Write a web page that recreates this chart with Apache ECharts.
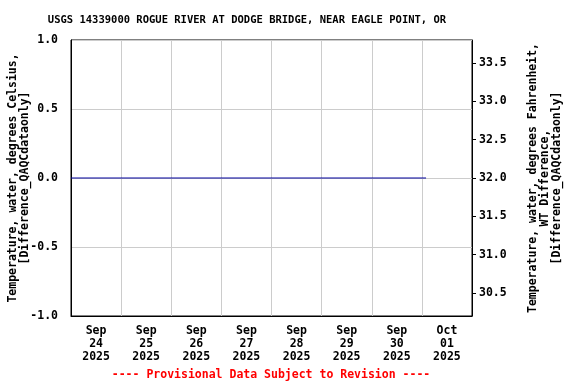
<!DOCTYPE html>
<html><head><meta charset="utf-8">
<script src="https://cdn.jsdelivr.net/npm/echarts@6/dist/echarts.min.js"></script>
<style>html,body{margin:0;padding:0;background:#fff}#c{width:576px;height:384px}</style>
</head><body><div id="c"></div>
<script>
const titleText = "USGS 14339000 ROGUE RIVER AT DODGE BRIDGE, NEAR EAGLE POINT, OR";
const footerText = "---- Provisional Data Subject to Revision ----";
const dayLabels = ["Sep\n24\n2025","Sep\n25\n2025","Sep\n26\n2025","Sep\n27\n2025","Sep\n28\n2025","Sep\n29\n2025","Sep\n30\n2025","Oct\n01\n2025"];
const times = ["2025-09-24T00:00:00","2025-10-01T02:00:00"];
const diffC = [0.0, 0.0];
const leftName = "Temperature, water, degrees Celsius,\n[Difference_QAQCdataonly]";
const rightName = "Temperature, water, degrees Fahrenheit,\nWT Difference,\n[Difference_QAQCdataonly]";
const rightTicks = [30.5,31.0,31.5,32.0,32.5,33.0,33.5];

const FONT = "DejaVu Sans Mono";
const chart = echarts.init(document.getElementById('c'), null, {renderer:'canvas'});
const xMin = new Date("2025-09-24T00:00:00").getTime();
const xMax = new Date("2025-10-02T00:00:00").getTime();
chart.setOption({
  animation:false,
  backgroundColor:'#fff',
  textStyle:{fontFamily:FONT,fontWeight:'bold'},
  grid:{left:71,top:40,right:104,bottom:68,containLabel:false,outerBoundsMode:'none',show:true,borderColor:'#000',borderWidth:1,backgroundColor:'transparent'},
  graphic:[
    {type:'text',x:247,y:20,style:{text:titleText,font:"bold 10.5px '"+FONT+"'",fill:'#000',align:'center',verticalAlign:'middle'}},
    {type:'text',x:271,y:375,style:{text:footerText,font:"bold 11.5px '"+FONT+"'",fill:'#ff0000',align:'center',verticalAlign:'middle'}}
  ],
  xAxis:[
    {type:'time',min:xMin,max:xMax,interval:86400000,
     axisLine:{show:false},axisTick:{show:false},axisLabel:{show:false},
     splitLine:{show:true,lineStyle:{color:'#cccccc',width:1}}},
    {type:'category',data:dayLabels,boundaryGap:true,position:'bottom',
     axisLine:{show:true,lineStyle:{color:'#000'}},axisTick:{show:false},splitLine:{show:false},
     axisLabel:{color:'#000',fontFamily:FONT,fontWeight:'bold',fontSize:11.5,lineHeight:13,margin:9}}
  ],
  yAxis:[
    {type:'value',min:-1,max:1,interval:0.5,position:'left',
     axisLine:{show:true,lineStyle:{color:'#000'}},axisTick:{show:false},
     axisLabel:{color:'#000',fontFamily:FONT,fontWeight:'bold',fontSize:11.5,margin:13,formatter:v=>v.toFixed(1)},
     splitLine:{show:true,lineStyle:{color:'#cccccc',width:1}},
     name:leftName,nameLocation:'middle',nameRotate:90,nameGap:40,nameMoveOverlap:false,
     nameTextStyle:{color:'#000',fontFamily:FONT,fontWeight:'bold',fontSize:11.5,lineHeight:12}},
    {type:'value',min:30.2,max:33.8,position:'right',
     axisLine:{show:true,lineStyle:{color:'#000'}},
     axisTick:{show:true,length:4,inside:false,customValues:rightTicks,lineStyle:{color:'#000'}},
     axisLabel:{color:'#000',fontFamily:FONT,fontWeight:'bold',fontSize:11.5,margin:7,customValues:rightTicks,formatter:v=>v.toFixed(1)},
     splitLine:{show:false},
     name:rightName,nameLocation:'middle',nameRotate:90,nameGap:55,nameMoveOverlap:false,
     nameTextStyle:{color:'#000',fontFamily:FONT,fontWeight:'bold',fontSize:11.5,lineHeight:12}}
  ],
  series:[
    {type:'line',xAxisIndex:0,yAxisIndex:0,data:times.map((t,i)=>[new Date(t).getTime(),diffC[i]]),
     showSymbol:false,lineStyle:{color:'#00009c',width:1},silent:true}
  ]
});
</script></body></html>
